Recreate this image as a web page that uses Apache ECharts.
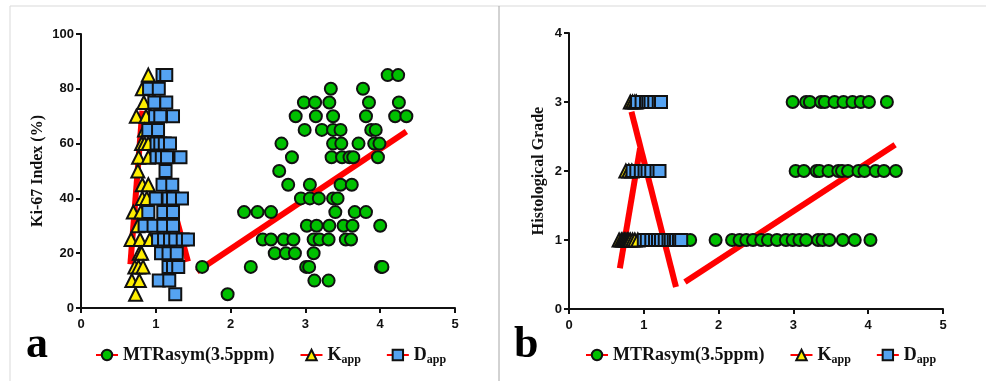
<!DOCTYPE html>
<html>
<head>
<meta charset="utf-8">
<script src="https://cdn.jsdelivr.net/npm/echarts@6/dist/echarts.min.js"></script>
<style>
  html, body { margin: 0; padding: 0; background: #fff; }
  #chart { width: 986px; height: 381px; }
</style>
</head>
<body>
<div id="chart"></div>
<script>
'use strict'

/*-----data-----*/
var xTicks = [0, 1, 2, 3, 4, 5];
var kiTicks = [0, 20, 40, 60, 80, 100];
var gradeTicks = [0, 1, 2, 3, 4];
var names = ['MTRasym(3.5ppm)', 'Kapp', 'Dapp'];

// panel a : Ki-67 index
var mtrKi = [
  [4.10,85],[4.24,85],
  [3.34,80],[3.77,80],
  [2.98,75],[3.13,75],[3.32,75],[3.85,75],[4.25,75],
  [2.87,70],[3.14,70],[3.37,70],[3.81,70],[4.20,70],[4.35,70],
  [2.99,65],[3.22,65],[3.37,65],[3.47,65],[3.88,65],[3.94,65],
  [2.68,60],[3.37,60],[3.48,60],[3.71,60],[3.92,60],[3.99,60],
  [2.82,55],[3.35,55],[3.49,55],[3.59,55],[3.64,55],[3.97,55],
  [2.65,50],
  [2.77,45],[3.06,45],[3.47,45],[3.62,45],
  [2.94,40],[3.06,40],[3.18,40],[3.37,40],[3.43,40],
  [2.18,35],[2.36,35],[2.54,35],[3.40,35],[3.66,35],[3.81,35],
  [3.02,30],[3.15,30],[3.32,30],[3.51,30],[3.63,30],[4.00,30],
  [2.43,25],[2.54,25],[2.71,25],[2.84,25],[3.11,25],[3.19,25],[3.31,25],[3.54,25],[3.61,25],
  [2.59,20],[2.74,20],[2.86,20],[3.11,20],
  [1.62,15],[2.27,15],[3.01,15],[3.05,15],[4.01,15],[4.03,15],
  [3.12,10],[3.31,10],
  [1.96,5]
];
var kappKi = [
  [0.90,85],[0.82,80],[0.84,75],[0.74,70],[0.87,70],[0.85,65],
  [0.81,60],[0.85,60],[0.90,60],[0.77,55],[0.90,55],[0.76,50],
  [0.82,45],[0.90,45],[0.82,40],[0.88,40],[0.70,35],[0.80,35],
  [0.76,30],[0.67,25],[0.79,25],[0.92,25],[0.78,20],[0.81,20],
  [0.72,15],[0.77,15],[0.83,15],[0.68,10],[0.78,10],[0.73,5]
];
var dappKi = [
  [1.09,85],[1.14,85],[0.91,80],[1.04,80],[0.98,75],[1.14,75],
  [0.99,70],[1.06,70],[1.23,70],[0.90,65],[1.03,65],
  [1.01,60],[1.06,60],[1.12,60],[1.19,60],[1.01,55],[1.08,55],[1.15,55],[1.33,55],
  [1.13,50],[1.09,45],[1.22,45],[1.00,40],[1.17,40],[1.23,40],[1.35,40],
  [0.90,35],[1.10,35],[1.23,35],[0.85,30],[0.97,30],[1.10,30],[1.23,30],
  [1.03,25],[1.11,25],[1.19,25],[1.26,25],[1.36,25],[1.43,25],
  [1.07,20],[1.17,20],[1.28,20],[1.17,15],[1.23,15],[1.30,15],
  [1.04,10],[1.18,10],[1.26,5]
];
var fitMtrKi = [[1.55,13.3],[4.35,64.4]];
var fitKappKi = [[0.66,16],[0.82,72]];
var fitDappKi = [[0.90,71],[1.43,17]];

// panel b : histological grade
var mtrGrade = [
  [2.99,3],[3.17,3],[3.22,3],[3.37,3],[3.42,3],[3.55,3],[3.67,3],[3.79,3],[3.90,3],[4.01,3],[4.25,3],
  [3.03,2],[3.14,2],[3.31,2],[3.35,2],[3.47,2],[3.60,2],[3.65,2],[3.73,2],[3.87,2],[3.95,2],[4.10,2],[4.21,2],[4.37,2],
  [1.62,1],[1.96,1],[2.18,1],[2.28,1],[2.37,1],[2.46,1],[2.57,1],[2.66,1],[2.78,1],[2.90,1],
  [2.99,1],[3.08,1],[3.17,1],[3.33,1],[3.39,1],[3.48,1],[3.66,1],[3.82,1],[4.03,1]
];
var kappGrade = [
  [0.82,3],[0.85,3],[0.88,3],[0.90,3],
  [0.76,2],[0.80,2],[0.84,2],
  [0.67,1],[0.70,1],[0.72,1],[0.74,1],[0.76,1],[0.78,1],[0.80,1],[0.82,1],[0.85,1],[0.88,1],[0.92,1]
];
var dappGrade = [
  [0.91,3],[0.97,3],[1.03,3],[1.06,3],[1.09,3],[1.14,3],[1.20,3],[1.23,3],
  [0.85,2],[0.90,2],[0.96,2],[1.01,2],[1.05,2],[1.10,2],[1.17,2],[1.21,2],
  [1.00,1],[1.04,1],[1.10,1],[1.15,1],[1.19,1],[1.23,1],[1.28,1],[1.33,1],[1.36,1],[1.40,1],[1.43,1],[1.47,1],[1.50,1]
];
var fitMtrGrade = [[1.55,0.39],[4.36,2.38]];
var fitKappGrade = [[0.68,0.59],[0.95,2.33]];
var fitDappGrade = [[0.835,2.86],[1.43,0.32]];

/*-----style helpers-----*/
var red = '#ff0000';
var sansBold = { fontFamily: 'Liberation Sans', fontWeight: 'bold', fontSize: 13, color: '#111' };
var serif = 'Liberation Serif';

function valueAxis(idx, ticks, name, nameGap, labelMargin) {
  return {
    type: 'value',
    gridIndex: idx,
    min: ticks[0],
    max: ticks[ticks.length - 1],
    interval: ticks[1] - ticks[0],
    name: name,
    nameLocation: 'middle',
    nameGap: nameGap,
    nameTextStyle: { fontFamily: serif, fontWeight: 'bold', fontSize: 16, color: '#111' },
    splitLine: { show: false },
    axisLine: { show: true, onZero: false, lineStyle: { color: '#111', width: 2 } },
    axisTick: { show: true, length: 5, lineStyle: { color: '#111', width: 2 } },
    axisLabel: Object.assign({ margin: labelMargin }, sansBold)
  };
}

function points(name, idx, data, symbol, fill) {
  return {
    name: name,
    type: 'line',
    xAxisIndex: idx,
    yAxisIndex: idx,
    data: data,
    symbol: symbol,
    symbolSize: symbol === 'triangle' ? 13 : 12,
    showSymbol: true,
    showAllSymbol: true,
    lineStyle: { width: 0, opacity: 0 },
    itemStyle: { color: fill, borderColor: '#111', borderWidth: 2, opacity: 1 },
    z: 3
  };
}

function fit(idx, data) {
  return {
    type: 'line',
    xAxisIndex: idx,
    yAxisIndex: idx,
    data: data,
    symbol: 'none',
    silent: true,
    lineStyle: { color: red, width: 6 },
    z: 2
  };
}

function legendAt(left) {
  return {
    data: names,
    left: left,
    top: 341,
    itemWidth: 22,
    itemHeight: 13,
    itemGap: 25,
    lineStyle: { color: red, width: 2, opacity: 1 },
    formatter: function (n) {
      if (n === 'Kapp') return '{m|K}{s|app}';
      if (n === 'Dapp') return '{m|D}{s|app}';
      return '{m|' + n + '}';
    },
    textStyle: {
      rich: {
        m: { fontFamily: serif, fontWeight: 'bold', fontSize: 18, color: '#111', lineHeight: 22 },
        s: { fontFamily: serif, fontWeight: 'bold', fontSize: 12, color: '#111', lineHeight: 12, verticalAlign: 'bottom', padding: [8, 0, 0, 0] }
      }
    }
  };
}

var chart = echarts.init(document.getElementById('chart'));

var option = {
  animation: false,
  backgroundColor: '#fff',
  grid: [
    { left: 81, right: 531, top: 34, bottom: 73 },
    { left: 569, right: 43, top: 33, bottom: 72 }
  ],
  xAxis: [
    valueAxis(0, xTicks, '', 0, 10),
    valueAxis(1, xTicks, '', 0, 10)
  ],
  yAxis: [
    valueAxis(0, kiTicks, 'Ki-67 Index (%)', 35, 7),
    valueAxis(1, gradeTicks, 'Histological Grade', 22, 7)
  ],
  legend: [legendAt(90), legendAt(580)],
  graphic: [
    { type: 'line', shape: { x1: 10, y1: 6, x2: 986, y2: 6 }, style: { stroke: '#d9d9d9', lineWidth: 1 } },
    { type: 'line', shape: { x1: 10, y1: 6, x2: 10, y2: 381 }, style: { stroke: '#d9d9d9', lineWidth: 1 } },
    { type: 'line', shape: { x1: 499, y1: 6, x2: 499, y2: 381 }, style: { stroke: '#a6a6a6', lineWidth: 1 } },
    { type: 'text', left: 26, top: 324, style: { text: 'a', font: 'bold 44px "Liberation Serif"', fill: '#000' } },
    { type: 'text', left: 514, top: 324, style: { text: 'b', font: 'bold 44px "Liberation Serif"', fill: '#000' } }
  ],
  series: [
    fit(0, fitMtrKi), fit(0, fitKappKi), fit(0, fitDappKi),
    points(names[0], 0, mtrKi, 'circle', '#00c000'),
    points(names[1], 0, kappKi, 'triangle', '#ffee00'),
    points(names[2], 0, dappKi, 'rect', '#55a3f2'),
    fit(1, fitMtrGrade), fit(1, fitKappGrade), fit(1, fitDappGrade),
    points(names[0], 1, mtrGrade, 'circle', '#00c000'),
    points(names[1], 1, kappGrade, 'triangle', '#ffee00'),
    points(names[2], 1, dappGrade, 'rect', '#55a3f2')
  ]
};
chart.setOption(option);
</script>
</body>
</html>
